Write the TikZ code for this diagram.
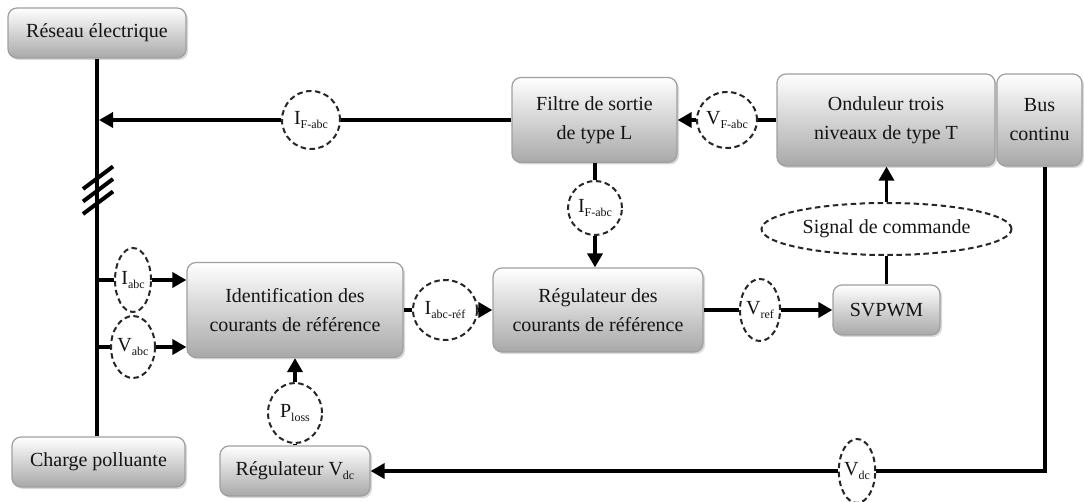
\documentclass[tikz,border=0pt]{standalone}
\usepackage{fontspec}
\setmainfont{Liberation Serif}
\usetikzlibrary{arrows.meta,shapes.geometric,shadows}
\newcommand\lsb[1]{\raisebox{-0.4ex}{\fontsize{12}{12}\selectfont #1}}
\begin{document}
\begin{tikzpicture}[x=1pt,y=-1pt,
  blk/.style={draw=gray!75, line width=1.2pt, rounded corners=9pt,
    top color=white, bottom color=gray!68, align=center,
    text=black!92, font=\fontsize{20}{29}\selectfont, inner sep=0pt,
    drop shadow={opacity=0.3,shadow xshift=2pt,shadow yshift=-2pt}},
  sig/.style={ellipse, draw=black!85, line width=2pt,
    dash pattern=on 5.5pt off 3.5pt, inner sep=0pt, fill=white,
    text=black!92, font=\fontsize{20}{20}\selectfont},
  wire/.style={line width=3.8pt, black},
  arr/.style={wire, -{Triangle[length=14pt,width=15pt]}}]
\useasboundingbox (0,0) rectangle (1084,502);
% blocks
\node[blk, minimum width=178pt, minimum height=50pt] (res) at (97,33) {Réseau électrique};
\node[blk, minimum width=173pt, minimum height=50pt] (charge) at (98.5,462) {Charge polluante};
\node[blk, minimum width=165pt, minimum height=85pt] (filtre) at (594.5,120) {Filtre de sortie\\de type L};
\node[blk, minimum width=218pt, minimum height=92pt] (ond) at (886,120) {Onduleur trois\\niveaux de type T};
\node[blk, minimum width=85pt, minimum height=92pt] (bus) at (1039.5,120) {Bus\\continu};
\node[blk, minimum width=216pt, minimum height=95pt] (ident) at (295,310) {Identification des\\courants de référence};
\node[blk, minimum width=210pt, minimum height=84pt] (regc) at (598,310) {Régulateur des\\courants de référence};
\node[blk, minimum width=107pt, minimum height=50pt] (svpwm) at (886.5,310) {SVPWM};
\node[blk, minimum width=150pt, minimum height=50pt] (regvdc) at (295,471) {Régulateur V\lsb{dc}};
% signals
\node[sig, minimum width=58pt, minimum height=58pt] (ifa1) at (311,120) {I\lsb{F-abc}};
\node[sig, minimum width=60pt, minimum height=56pt] (vfa) at (727,120) {V\lsb{F-abc}};
\node[sig, minimum width=54pt, minimum height=54pt] (ifa2) at (595,208) {I\lsb{F-abc}};
\node[sig, minimum width=36pt, minimum height=64pt] (iabc) at (133,280) {I\lsb{abc}};
\node[sig, minimum width=36pt, minimum height=62pt] (vabc) at (133,347) {V\lsb{abc}};
\node[sig, minimum width=64pt, minimum height=60pt] (iref) at (445,310) {I\lsb{abc-réf}};
\node[sig, minimum width=40pt, minimum height=62pt] (vref) at (760,310) {V\lsb{ref}};
\node[sig, minimum width=250pt, minimum height=52pt] (sigcmd) at (886.5,229) {Signal de commande};
\node[sig, minimum width=54pt, minimum height=60pt] (ploss) at (295,413) {P\lsb{loss}};
\node[sig, minimum width=34pt, minimum height=64pt] (vdc) at (857,471) {V\lsb{dc}};
% coordinates
\coordinate (j1) at (99,120);
\coordinate (ji) at (97,280);
\coordinate (jv) at (97,347);
\coordinate (bc) at (1045,471);
% main vertical line
\draw[wire] (res.south) -- (res.south |- charge.north);
\foreach \d in {0,12.5,25}
  \draw[line width=4pt] (83,189+\d) -- (113,166.5+\d);
% connectors
\draw[wire] (filtre.west) -- (ifa1);
\draw[arr] (ifa1) -- (j1);
\draw[wire] (ond.west) -- (vfa);
\draw[arr] (vfa) -- (filtre.east);
\draw[wire] (filtre.south -| ifa2) -- (ifa2);
\draw[arr] (ifa2) -- (ifa2 |- regc.north);
\draw[wire] (ji) -- (iabc);
\draw[arr] (iabc) -- (iabc -| ident.west);
\draw[wire] (jv) -- (vabc);
\draw[arr] (vabc) -- (vabc -| ident.west);
\draw[wire] (ident.east) -- (iref);
\draw[arr] (iref) -- (regc.west);
\draw[wire] (regc.east) -- (vref);
\draw[arr] (vref) -- (svpwm.west);
\draw[wire] (svpwm.north) -- (sigcmd.south);
\draw[arr] (sigcmd.north) -- (ond.south -| sigcmd.north);
\draw[wire] (regvdc.north) -- (ploss);
\draw[arr] (ploss) -- (ident.south);
\draw[wire] (bus.south -| bc) -- (bc) -- (vdc);
\draw[arr] (vdc) -- (regvdc.east);
\end{tikzpicture}
\end{document}
